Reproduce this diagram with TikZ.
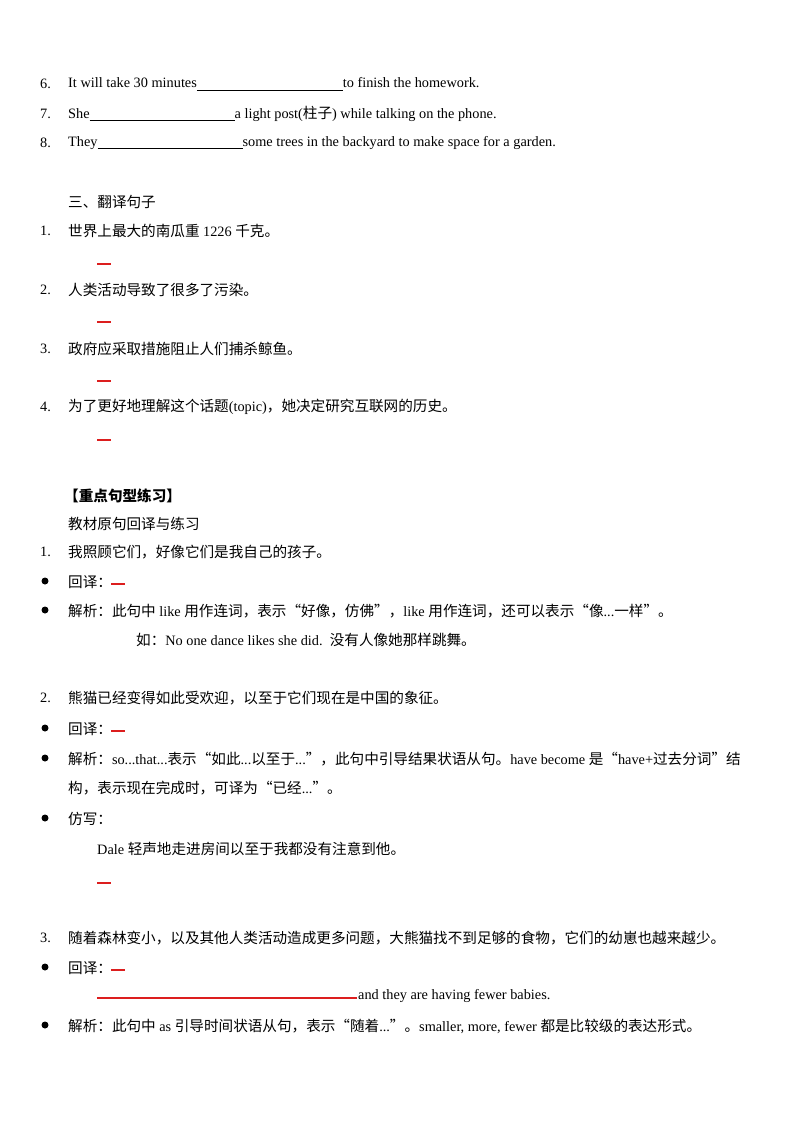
\documentclass[tikz,border=0pt]{standalone}
\usepackage{fontspec}
\setmainfont{Liberation Serif}
\newfontfamily\cjk{Noto Sans CJK SC}
\newcommand\zh[1]{{\cjk\fontsize{14.6}{17}\selectfont #1}}
\newcommand\blank[1]{\rule[-2.5pt]{#1pt}{0.7pt}}
\definecolor{redline}{RGB}{220,30,30}
\begin{document}
\begin{tikzpicture}[x=1pt,y=-1pt,
  every node/.style={inner sep=0pt,anchor=west,font=\fontsize{14.3}{17}\selectfont},
  num/.style={anchor=west},
  rdash/.style={draw=redline,line width=1.2pt},
  dot/.style={fill=black,circle,minimum size=7pt,inner sep=0pt,anchor=center}]
\useasboundingbox (0,0) rectangle (800,1132);
\begin{scope}[yshift=-4pt]
\node[num] (n6) at (40,80) {6.};
\node (l6) at (68,80) {It will take 30 minutes\blank{146}to finish the homework.};
\node[num] (n7) at (40,110) {7.};
\node (l7) at (68,110) {She\blank{145}a light post(\zh{柱子}) while talking on the phone.};
\node[num] (n8) at (40,139) {8.};
\node (l8) at (68,139) {They\blank{145}some trees in the backyard to make space for a garden.};
\node (h3) at (68,198) {\zh{三、翻译句子}};
\node[num] (m1) at (40,227) {1.};
\node (s1) at (68,227) {\zh{世界上最大的南瓜重} 1226 \zh{千克。}};
\node[num] (m2) at (40,286) {2.};
\node (s2) at (68,286) {\zh{人类活动导致了很多了污染。}};
\node[num] (m3) at (40,345) {3.};
\node (s3) at (68,345) {\zh{政府应采取措施阻止人们捕杀鲸鱼。}};
\node[num] (m4) at (40,403) {4.};
\node (s4) at (68,403) {\zh{为了更好地理解这个话题}(topic)\zh{，她决定研究互联网的历史。}};
\node (h4) at (64,492) {\zh{\bfseries【重点句型练习】}};
\node (h5) at (68,520) {\zh{教材原句回译与练习}};
\node[num] (k1) at (40,548) {1.};
\node (k1t) at (68,548) {\zh{我照顾它们，好像它们是我自己的孩子。}};
\node (b1t) at (68,578) {\zh{回译：}};
\node (b2t) at (68,607) {\zh{解析：此句中} like \zh{用作连词，表示“好像，仿佛”，}like \zh{用作连词，还可以表示“像}...\zh{一样”。}};
\node (b2e) at (136,636) {\zh{如：}No one dance likes she did.\ \ \zh{没有人像她那样跳舞。}};
\node[num] (k2) at (40,694) {2.};
\node (k2t) at (68,694) {\zh{熊猫已经变得如此受欢迎，以至于它们现在是中国的象征。}};
\node (b3t) at (68,725) {\zh{回译：}};
\node (b4t) at (68,755) {\zh{解析：}so...that...\zh{表示“如此}...\zh{以至于}...\zh{”，此句中引导结果状语从句。}have become \zh{是“}have+\zh{过去分词”结}};
\node (b4u) at (68,784) {\zh{构，表示现在完成时，可译为“已经}...\zh{”。}};
\node (b5t) at (68,815) {\zh{仿写：}};
\node (b5u) at (97,845) {Dale \zh{轻声地走进房间以至于我都没有注意到他。}};
\node[num] (k3) at (40,934) {3.};
\node (k3t) at (68,934) {\zh{随着森林变小，以及其他人类活动造成更多问题，大熊猫找不到足够的食物，它们的幼崽也越来越少。}};
\node (b6t) at (68,964) {\zh{回译：}};
\node (b6u) at (358,992) {and they are having fewer babies.};
\node (b7t) at (68,1022) {\zh{解析：此句中} as \zh{引导时间状语从句，表示“随着}...\zh{”。}smaller, more, fewer \zh{都是比较级的表达形式。}};
\end{scope}
\begin{scope}[yshift=-3pt]
\node[dot] (b1) at (45,578) {};
\node[dot] (b2) at (45,607) {};
\node[dot] (b3) at (45,725) {};
\node[dot] (b4) at (45,755) {};
\node[dot] (b5) at (45,815) {};
\node[dot] (b6) at (45,964) {};
\node[dot] (b7) at (45,1022) {};
\end{scope}
\draw[rdash] (97,264) -- (111,264);
\draw[rdash] (97,322) -- (111,322);
\draw[rdash] (97,381) -- (111,381);
\draw[rdash] (97,440) -- (111,440);
\draw[rdash] (111,584) -- (125,584);
\draw[rdash] (111,731) -- (125,731);
\draw[rdash] (97,883) -- (111,883);
\draw[rdash] (111,970) -- (125,970);
\draw[rdash] (97,998) -- (357,998);
\end{tikzpicture}
\end{document}
